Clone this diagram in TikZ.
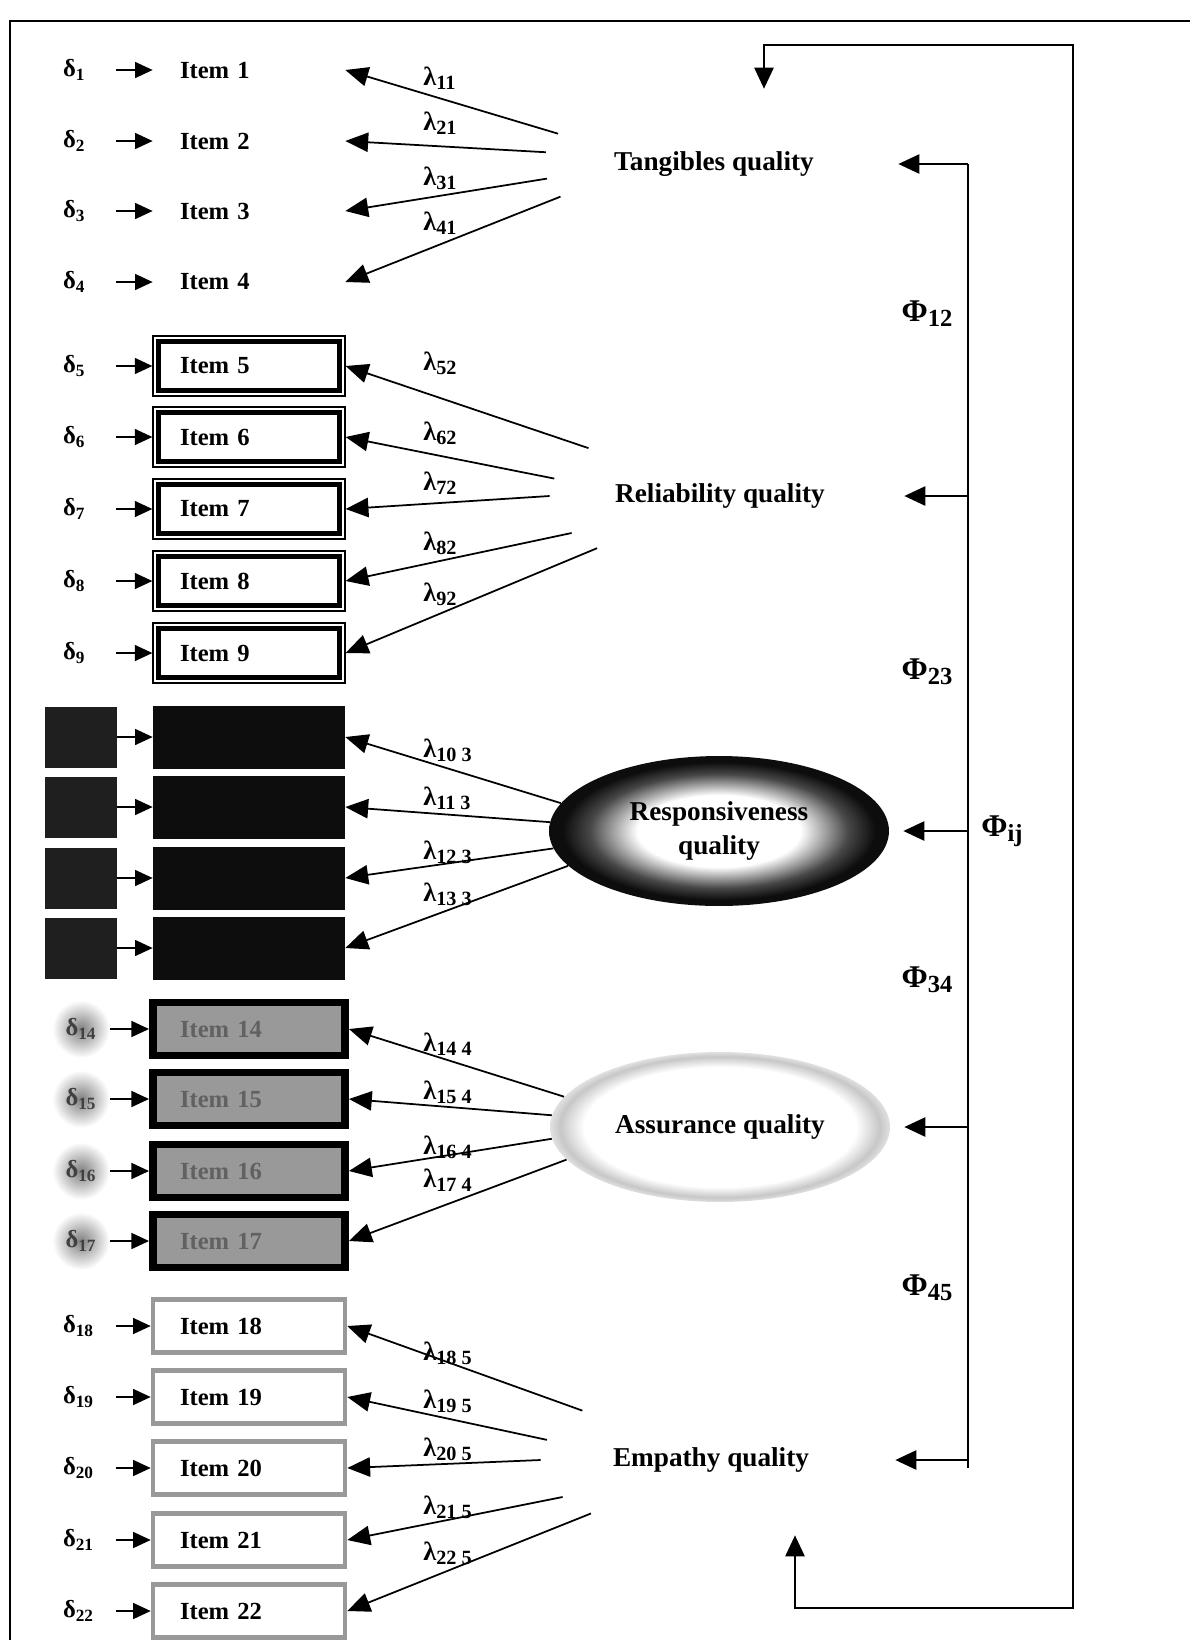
\documentclass[tikz,border=0pt]{standalone}
\usepackage{fontspec}
\setmainfont{Liberation Serif}
\usetikzlibrary{arrows.meta,shapes.geometric,calc}

\newcommand{\lsub}[2][11.5]{\raisebox{-0.35ex}{\fontsize{#1}{12}\selectfont #2}}
\pgfdeclareradialshading{respring}{\pgfpointorigin}{color(0bp)=(white); color(12bp)=(white); color(19bp)=(black!72); color(23bp)=(black!95); color(50bp)=(black!95)}
\pgfdeclareradialshading{assuring}{\pgfpointorigin}{color(0bp)=(white); color(20bp)=(white); color(23.5bp)=(black!22); color(25bp)=(black!12); color(50bp)=(black!12)}

\begin{document}
\begin{tikzpicture}[x=0.02cm, y=-0.02cm,
  every node/.style={font=\bfseries},
  itembox/.style={text width=2.76cm, inner xsep=0.54cm, inner ysep=0pt, minimum height=1.16cm, align=left, font=\fontsize{14}{16}\selectfont\bfseries},
  relbox/.style={itembox, minimum height=1.2cm, draw, line width=0.7pt,
    path picture={\draw[line width=3.2pt] ([shift={(3.2pt,-3.2pt)}]path picture bounding box.north west) rectangle ([shift={(-3.2pt,3.2pt)}]path picture bounding box.south east);}},
  darkbox/.style={itembox, minimum height=1.26cm, fill=black!95},
  graybox/.style={itembox, minimum height=1.06cm, fill=black!40, draw=black, line width=4.5pt, text=black!62},
  empbox/.style={itembox, minimum height=1.06cm, draw=black!40, line width=2.6pt},
  errlab/.style={text width=0.72cm, inner xsep=0.33cm, inner ysep=0pt, align=left, font=\fontsize{14}{16}\selectfont\bfseries},
  darkerr/.style={minimum width=1.44cm, minimum height=1.22cm, inner sep=0pt, fill=black!88},
  grayerr/.style={circle, minimum size=1.15cm, inner sep=0pt, shade, inner color=black!50, outer color=white, text=black!75, font=\fontsize{14}{16}\selectfont\bfseries},
  errarr/.style={-{Triangle[length=10pt,width=9pt]}, line width=1.1pt},
  construct/.style={ellipse, minimum width=6.8cm, minimum height=3cm, inner sep=0pt, font=\fontsize{15.5}{19}\selectfont\bfseries},
  load/.style={-{Triangle[length=13pt,width=11pt]}, line width=1pt},
  lamlab/.style={anchor=west, inner sep=0pt, font=\fontsize{15}{17}\selectfont\bfseries},
  philine/.style={line width=1.1pt},
  phiarr/.style={-{Triangle[length=12pt,width=11pt]}, line width=1.1pt, shorten >=8pt},
  philab/.style={font=\fontsize{18}{20}\selectfont\bfseries},
  corrline/.style={line width=1.1pt}]
  \useasboundingbox (0,0) rectangle (1190,1640);
  % frame
  \draw[line width=1.1pt] (10,1640) -- (10,21) -- (1190,21);

  % latent constructs
  \node[construct] (tang) at (714,164) {Tangibles quality};
  \node[construct] (rel) at (720,496) {Reliability quality};
  \node[construct, shade, shading=respring, align=center] (resp) at (719,831) {Responsiveness\\quality};
  \node[construct, shade, shading=assuring] (assu) at (720,1127) {Assurance quality};
  \node[construct] (emp) at (711,1460) {Empathy quality};

  % observed items and their errors
  \foreach \i/\y in {1/70,2/141,3/211,4/282} {
    \node[itembox] (it\i) at (249,\y) {Item \i};
    \node[errlab] (d\i) at (81,\y) {δ\textsubscript{\i}};
    \draw[errarr] (d\i) -- (it\i);
  }
  \foreach \i/\y in {5/366,6/437,7/509,8/581,9/653} {
    \node[relbox] (it\i) at (249,\y) {Item \i};
    \node[errlab] (d\i) at (81,\y) {δ\textsubscript{\i}};
    \draw[errarr] (d\i) -- (it\i);
  }
  \foreach \i/\y in {10/737,11/807,12/878,13/948} {
    \node[darkbox] (it\i) at (249,\y) {};
    \node[darkerr] (d\i) at (81,\y) {};
    \draw[errarr] (d\i) -- (it\i);
  }
  \foreach \i/\y in {14/1029,15/1099,16/1171,17/1241} {
    \node[graybox] (it\i) at (249,\y) {Item \i};
    \node[grayerr] (d\i) at (81,\y) {δ\textsubscript{\i}};
    \draw[errarr] (d\i) -- (it\i);
  }
  \foreach \i/\y in {18/1326,19/1397,20/1468,21/1540,22/1611} {
    \node[empbox] (it\i) at (249,\y) {Item \i};
    \node[errlab] (d\i) at (81,\y) {δ\textsubscript{\i}};
    \draw[errarr] (d\i) -- (it\i);
  }

  % loadings
  \foreach \a/\i in {169/1,176/2,185/3,192/4}
    \draw[load] (tang.\a) -- (it\i.east);
  \foreach \a/\i in {160/5,174/6,180/7,194/8,203/9}
    \draw[load] (rel.\a) -- (it\i.east);
  \foreach \a/\i in {170/10,177/11,186/12,193/13}
    \draw[load] (resp.\a) -- (it\i.east);
  \foreach \a/\i in {169/14,176/15,184/16,192/17}
    \draw[load] (assu.\a) -- (it\i.east);
  \foreach \a/\i in {159/18,173/19,180/20,194/21,204/22}
    \draw[load] (emp.\a) -- (it\i.east);
  \foreach \i/\y/\s in {1/78/11,2/123/21,3/178/31,4/223/41,
      5/363/52,6/433/62,7/483/72,8/543/82,9/594/92,
      10/750/10 3,11/798/11 3,12/852/12 3,13/894/13 3,
      14/1044/14 4,15/1092/15 4,16/1147/16 4,17/1180/17 4,
      18/1353/18 5,19/1401/19 5,20/1449/20 5,21/1507/21 5,22/1553/22 5}
    \node[lamlab] (lam\i) at (423,\y) {λ\lsub{\s}};

  % correlations
  \coordinate (phit) at (968,164);
  \coordinate (phib) at (968,1468);
  \draw[philine] (phit) -- (phib);
  \foreach \c in {tang,rel,resp,assu,emp}
    \draw[phiarr] (\c -| phit) -- (\c.east);
  \node[philab] (p12) at (927,314) {Φ\lsub[14]{12}};
  \node[philab] (p23) at (927,672) {Φ\lsub[14]{23}};
  \node[philab] (pij) at (1002,831) {Φ\lsub[14]{ij}};
  \node[philab] (p34) at (927,980) {Φ\lsub[14]{34}};
  \node[philab] (p45) at (927,1288) {Φ\lsub[14]{45}};

  \coordinate (lpA) at (764,45);
  \coordinate (lpB) at (1073,45);
  \coordinate (lpC) at (1073,1608);
  \coordinate (lpD) at (795,1608);
  \draw[corrline, {Triangle[length=12pt,width=11pt]}-{Triangle[length=12pt,width=11pt]}]
    (lpA |- tang.north) -- (lpA) -- (lpB) -- (lpC) -- (lpD) -- (lpD |- emp.south);
\end{tikzpicture}
\end{document}
